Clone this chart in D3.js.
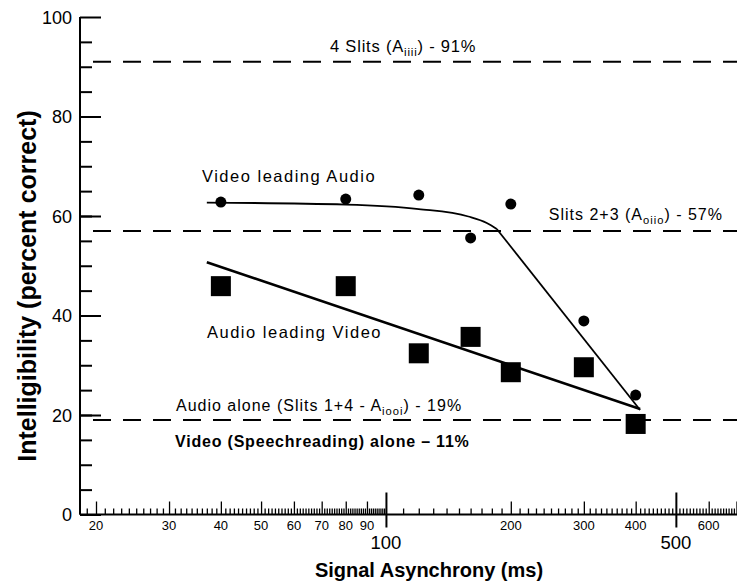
<!DOCTYPE html>
<html>
<head>
<meta charset="utf-8">
<script src="https://cdn.jsdelivr.net/npm/d3@7"></script>
<style>
  body { margin: 0; background: #fff; }
  svg { display: block; }
  text { font-family: "Liberation Sans", Arial, Helvetica, sans-serif; fill: #000; }
</style>
</head>
<body>
<svg id="chart" width="737" height="586"></svg>
<script>
// Measured intelligibility (percent correct) at each signal asynchrony (ms)
const asyncMs = [40, 80, 120, 160, 200, 300, 400];
const videoLeadingAudio = [62.8, 63.4, 64.2, 55.6, 62.4, 38.9, 24.0];
const audioLeadingVideo = [45.9, 45.9, 32.4, 35.7, 28.6, 29.6, 18.2];

// Fitted trend for video leading audio: gentle plateau, then a straight fall
const videoPlateauMs  = [37, 80, 120, 158, 175, 185];
const videoPlateauPct = [62.7, 62.3, 61.4, 59.9, 58.6, 57.4];
const videoFallMs  = [185, 410];
const videoFallPct = [57.4, 21.0];
// Fitted trend for audio leading video
const audioFitMs  = [37, 410];
const audioFitPct = [50.7, 21.2];

// Baseline conditions drawn as dashed reference lines
const refLevels = [91, 57, 19];

// Tick labels
const yTickLabels = [0, 20, 40, 60, 80, 100];
const xSmallLabels = [20, 30, 40, 50, 60, 70, 80, 90, 200, 300, 400, 600];
const xBigLabels = [100, 500];

const svg = d3.select("#chart");

const x = d3.scaleLog().domain([18.3, 702]).range([80, 737]);
const y = d3.scaleLinear().domain([0, 100]).range([514.5, 17]);

// ---- Y axis: major ticks every 20, minor every 5, drawn inward
const gy = svg.append("g").attr("transform", `translate(${x.range()[0]},0)`);
gy.call(d3.axisRight(y).tickValues(d3.range(5, 100, 5)).tickSize(12).tickFormat(""));
gy.append("g").call(d3.axisRight(y).tickValues(yTickLabels).tickSize(21).tickFormat(""));
gy.selectAll(".domain").attr("stroke", "#000").attr("stroke-width", 2)
  .attr("d", `M0,${y(100)}V${y(0)}`);
gy.selectAll(".tick line").attr("stroke", "#000").attr("stroke-width", 2);

svg.append("g").selectAll("text").data(yTickLabels).join("text")
  .attr("x", 72).attr("y", d => y(d) + 6.5)
  .attr("text-anchor", "end")
  .style("font-size", "18px")
  .text(d => d);

// ---- X axis (log): dense minor ticks, taller decade ticks, big ticks at 100 and 500
const minorVals = d3.range(19, 100, 1).concat(d3.range(110, 701, 10));
const tallVals = [20, 30, 40, 50, 60, 70, 80, 90, 200, 300, 400, 600, 700];
const shortVals = minorVals.filter(v => !tallVals.includes(v) && !xBigLabels.includes(v));

const xBase = y(0);
const gx = svg.append("g").attr("transform", `translate(0,${xBase})`);
gx.append("g").call(d3.axisTop(x).tickValues(shortVals).tickSize(6).tickFormat(""));
gx.append("g").call(d3.axisTop(x).tickValues(tallVals).tickSize(13).tickFormat(""));
gx.append("g").call(d3.axisTop(x).tickValues(xBigLabels).tickSize(22).tickFormat(""));
gx.append("g").call(d3.axisBottom(x).tickValues(xBigLabels).tickSize(13).tickFormat(""));
gx.selectAll(".domain").remove();
gx.selectAll(".tick line").attr("stroke", "#000").attr("stroke-width", 1.3);
gx.selectAll(".tick").filter(d => xBigLabels.includes(d)).select("line").attr("stroke-width", 2);
svg.append("line")
  .attr("x1", x.range()[0]).attr("x2", x.range()[1])
  .attr("y1", xBase).attr("y2", xBase)
  .attr("stroke", "#000").attr("stroke-width", 2);

svg.append("g").selectAll("text").data(xSmallLabels).join("text")
  .attr("x", d => x(d)).attr("y", 530)
  .attr("text-anchor", "middle")
  .style("font-size", "13px")
  .text(d => d);
svg.append("g").selectAll("text").data(xBigLabels).join("text")
  .attr("x", d => x(d)).attr("y", 549)
  .attr("text-anchor", "middle")
  .style("font-size", "18.5px")
  .text(d => d);

// ---- Axis titles
svg.append("text")
  .attr("x", 429).attr("y", 577)
  .attr("text-anchor", "middle")
  .style("font-size", "20px").style("font-weight", "bold")
  .text("Signal Asynchrony (ms)");
svg.append("text")
  .attr("transform", "translate(36,286) rotate(-90)")
  .attr("text-anchor", "middle")
  .style("font-size", "25px").style("font-weight", "bold")
  .text("Intelligibility (percent correct)");

// ---- Dashed reference lines
svg.append("g").selectAll("line").data(refLevels).join("line")
  .attr("x1", 93).attr("x2", 737)
  .attr("y1", d => y(d)).attr("y2", d => y(d))
  .attr("stroke", "#000").attr("stroke-width", 2)
  .attr("stroke-dasharray", "18,12");

function labelWithSub(xp, yp, pre, sub, post, size, spacing, anchor, weight) {
  const t = svg.append("text")
    .attr("x", xp).attr("y", yp)
    .attr("text-anchor", anchor || "start")
    .style("font-size", size + "px")
    .style("letter-spacing", spacing + "px")
    .style("font-weight", weight || "normal");
  t.append("tspan").text(pre);
  if (sub) {
    t.append("tspan").attr("dy", 4).style("font-size", (size * 0.7) + "px").text(sub);
    t.append("tspan").attr("dy", -4).text(post);
  }
  return t;
}
labelWithSub(330, y(91) - 10, "4 Slits (A", "iiii", ") - 91%", 16.5, 0.8);
labelWithSub(723, y(57) - 11, "Slits 2+3 (A", "oiio", ") - 57%", 16, 1.0, "end");
labelWithSub(176, y(19) - 9, "Audio alone (Slits 1+4 - A", "iooi", ") - 19%", 16, 1.0);
labelWithSub(175, y(19) + 27, "Video (Speechreading) alone \u2013 11%", null, null, 16, 0.8, "start", "bold");

svg.append("text").attr("x", 202).attr("y", 182)
  .style("font-size", "16.5px").style("letter-spacing", "1.5px")
  .text("Video leading Audio");
svg.append("text").attr("x", 207).attr("y", 338)
  .style("font-size", "16.5px").style("letter-spacing", "1.5px")
  .text("Audio leading Video");

// ---- Fitted curves
const px = d => x(d[0]);
const py = d => y(d[1]);
svg.append("path")
  .datum(d3.zip(videoPlateauMs, videoPlateauPct))
  .attr("d", d3.line().x(px).y(py).curve(d3.curveMonotoneX))
  .attr("fill", "none").attr("stroke", "#000").attr("stroke-width", 1.8);
svg.append("path")
  .datum(d3.zip(videoFallMs, videoFallPct))
  .attr("d", d3.line().x(px).y(py))
  .attr("fill", "none").attr("stroke", "#000").attr("stroke-width", 1.8);
svg.append("path")
  .datum(d3.zip(audioFitMs, audioFitPct))
  .attr("d", d3.line().x(px).y(py))
  .attr("fill", "none").attr("stroke", "#000").attr("stroke-width", 2.6);

// ---- Data markers
svg.append("g").selectAll("circle").data(d3.zip(asyncMs, videoLeadingAudio)).join("circle")
  .attr("cx", px).attr("cy", py)
  .attr("r", 5.5).attr("fill", "#000");
const sq = 20;
svg.append("g").selectAll("rect").data(d3.zip(asyncMs, audioLeadingVideo)).join("rect")
  .attr("x", d => px(d) - sq / 2).attr("y", d => py(d) - sq / 2)
  .attr("width", sq).attr("height", sq).attr("fill", "#000");
</script>
</body>
</html>
